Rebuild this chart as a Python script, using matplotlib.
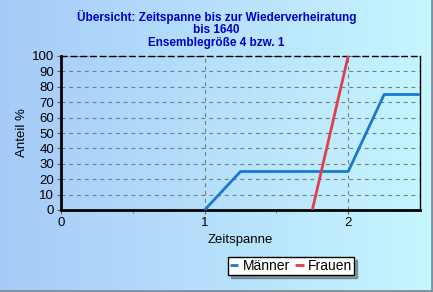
import numpy as np
import matplotlib
matplotlib.use("Agg")
import matplotlib.pyplot as plt
from matplotlib.colors import LinearSegmentedColormap

plt.rcParams['font.family'] = ['Liberation Sans', 'DejaVu Sans']

maenner_x = [1.0, 1.25, 2.0, 2.25, 2.5]
maenner_y = [0, 25, 25, 75, 75]
frauen_x = [1.75, 2.0]
frauen_y = [0, 100]
title_lines = ["Übersicht: Zeitspanne bis zur Wiederverheiratung", "bis 1640", "Ensemblegröße 4 bzw. 1"]
yticks = list(range(0, 101, 10))
xticks = [0, 1, 2]

fig = plt.figure(figsize=(4.33, 2.92), dpi=100)
bg = fig.add_axes([0, 0, 1, 1], zorder=-10)
cmap = LinearSegmentedColormap.from_list("g", ["#a6cbf8", "#c6f6ff"])
grad = np.linspace(0, 1, 256).reshape(1, -1)
bg.imshow(grad, aspect='auto', cmap=cmap, extent=[0, 1, 0, 1])
bg.plot([0, 1], [0.003, 0.003], color="#8090a0", lw=2, transform=bg.transAxes)
bg.plot([0.998, 0.998], [0, 1], color="#8090a0", lw=2, transform=bg.transAxes)
bg.set_xlim(0, 1); bg.set_ylim(0, 1)
bg.axis('off')

ax = fig.add_axes([61/433, 1-210/292, (420-61)/433, (210-56)/292])
ax.patch.set_alpha(0)
ax.set_xlim(0, 2.5)
ax.set_ylim(0, 100)
for y in yticks[1:]:
    ax.axhline(y, color="#7a7a7a", lw=0.8, ls=(0, (3.5, 3.5)), zorder=1)
for x in xticks[1:]:
    ax.axvline(x, color="#7a7a7a", lw=0.8, ls=(0, (3.5, 3.5)), zorder=1)

ax.plot(maenner_x, maenner_y, color="#1a78d0", lw=2, label="Männer", zorder=3, solid_capstyle='butt')
ax.plot(frauen_x, frauen_y, color="#e0404c", lw=2, label="Frauen", zorder=3, solid_capstyle='butt')

ax.spines['left'].set_linewidth(2)
ax.spines['bottom'].set_linewidth(2)
ax.spines['right'].set_linewidth(1)
ax.spines['top'].set_linewidth(1)
ax.spines['top'].set_linestyle((0, (4, 3)))
for s in ax.spines.values():
    s.set_color('black')

ax.set_yticks(yticks)
ax.set_xticks(xticks)
ax.set_xticks([0.5, 1.5], minor=True)
ax.tick_params(axis='both', labelsize=9.5, length=3, width=0.8, color="#606060", pad=2)
ax.tick_params(axis='x', which='minor', length=2, color="#606060")
ax.set_ylabel("Anteil %", fontsize=9.5, labelpad=3)
ax.set_xlabel("Zeitspanne", fontsize=9.5, labelpad=4)

for i, yy in enumerate([17, 30, 43]):
    fig.text(0.5, 1-yy/292, title_lines[i], ha='center', va='center', color="#0000c8",
             fontsize=8.5, fontweight='bold')

leg = fig.legend(loc='center', bbox_to_anchor=(291/433, 1-266/292), ncol=2, fontsize=10,
                 handlelength=0.6, handletextpad=0.3, columnspacing=0.4, borderpad=0.15,
                 fancybox=False, shadow=True, framealpha=1, edgecolor='black')
leg.get_frame().set_linewidth(1)

fig.savefig("out.png", dpi=100)
